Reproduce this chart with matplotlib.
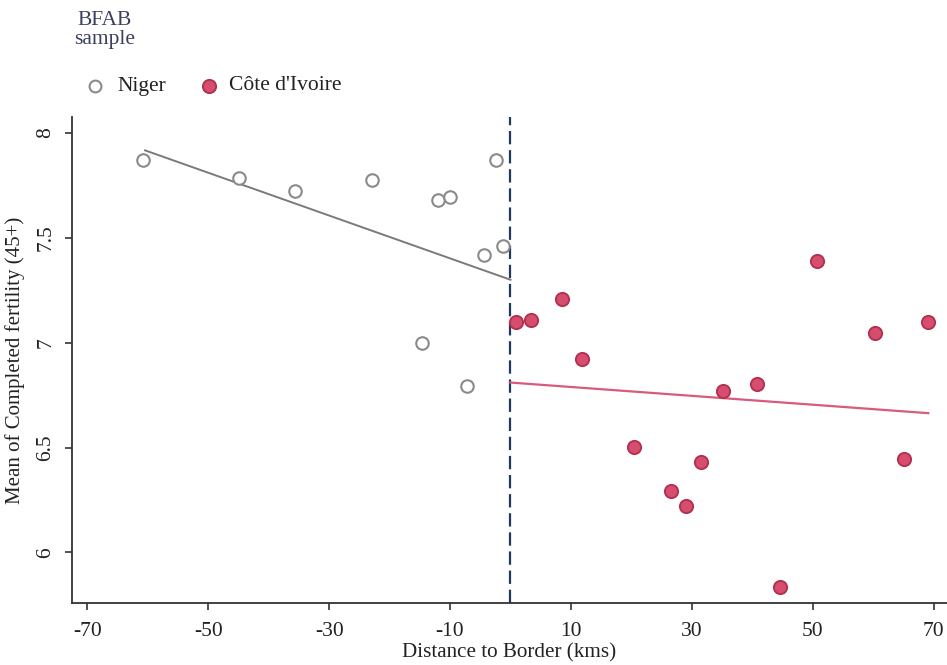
import matplotlib
matplotlib.use("Agg")
import matplotlib.pyplot as plt
from matplotlib.lines import Line2D

plt.rcParams['font.family'] = ['Liberation Serif', 'DejaVu Serif']

# Niger bins (hollow markers)
niger_x = [-60.74, -44.86, -35.65, -22.96, -11.94, -10.01, -2.40, -1.29, -4.33, -14.59, -7.25]
niger_y = [7.873, 7.785, 7.721, 7.777, 7.678, 7.693, 7.873, 7.462, 7.419, 6.998, 6.794]
# Cote d'Ivoire bins (filled markers)
civ_x = [0.91, 3.34, 8.47, 11.88, 20.43, 26.55, 28.98, 31.51, 35.20, 40.73, 44.58, 50.75, 60.30, 65.10, 69.11]
civ_y = [7.101, 7.106, 7.208, 6.923, 6.505, 6.293, 6.222, 6.433, 6.772, 6.804, 5.837, 7.391, 7.046, 6.445, 7.101]
# Fitted lines (endpoints)
niger_fit_x = [-60.46, 0.0]
niger_fit_y = [7.917, 7.300]
civ_fit_x = [0.0, 69.11]
civ_fit_y = [6.810, 6.664]

xticks = [-70, -50, -30, -10, 10, 30, 50, 70]
yticks = [6, 6.5, 7, 7.5, 8]
ytick_labels = ['6', '6.5', '7', '7.5', '8']
series_names = ['Niger', "Côte d'Ivoire"]

W, H = 947, 665
fig = plt.figure(figsize=(W / 100, H / 100), dpi=100)
ax_left, ax_right, ax_bottom, ax_top = 72, 947, 603, 117
ax = fig.add_axes([ax_left / W, 1 - ax_bottom / H, (ax_right - ax_left) / W, (ax_bottom - ax_top) / H])

gray_line = '#7a7a7a'
pink_line = '#d95a7c'
pink_fill = '#d64d70'
pink_edge = '#b3324f'
navy = '#1f3a5c'
txt = '#222222'

ax.plot(niger_fit_x, niger_fit_y, color=gray_line, lw=1.4, zorder=2)
ax.plot(civ_fit_x, civ_fit_y, color=pink_line, lw=1.6, zorder=2)
ax.axvline(0, color=navy, lw=1.6, dashes=(6.0, 2.6), zorder=1)

ax.plot(niger_x, niger_y, 'o', ms=9, mfc='white', mec='#8a8a8a', mew=1.5, ls='none', zorder=3)
ax.plot(civ_x, civ_y, 'o', ms=9.5, mfc=pink_fill, mec=pink_edge, mew=1.4, ls='none', zorder=3)

ax.set_xlim(-72.54, 72.21)
ax.set_ylim(5.759, 8.076)
ax.set_xticks(xticks)
ax.set_xticklabels([str(t) for t in xticks])
ax.set_yticks(yticks)
ax.set_yticklabels(ytick_labels, rotation=90, va='center')

for s in ['top', 'right']:
    ax.spines[s].set_visible(False)
for s in ['left', 'bottom']:
    ax.spines[s].set_color('#333333')
    ax.spines[s].set_linewidth(1.3)
ax.tick_params(axis='both', direction='out', length=5, width=1.2, color='#333333',
               labelsize=15.5, labelcolor=txt)
ax.tick_params(axis='x', pad=9)
ax.tick_params(axis='y', pad=7)

ax.set_xlabel('Distance to Border (kms)', fontsize=15.2, color=txt, labelpad=1)
ax.set_ylabel('Mean of Completed fertility (45+)', fontsize=15.0, color=txt)
ax.yaxis.set_label_coords((25 - ax_left) / (ax_right - ax_left), 0.5)

# Legend (title + two entries)
fig.text(105 / W, 1 - 30 / H, 'BFAB\nsample', ha='center', va='center', fontsize=15.5,
         color='#3a3f5e', linespacing=0.95)
ly = 1 - 86 / H
fig.add_artist(Line2D([95 / W], [ly], marker='o', ls='none', ms=8.5, mfc='white',
                      mec='#8a8a8a', mew=1.5, transform=fig.transFigure))
fig.add_artist(Line2D([209 / W], [ly], marker='o', ls='none', ms=9.5, mfc=pink_fill,
                      mec=pink_edge, mew=1.4, transform=fig.transFigure))
fig.text(117 / W, ly, series_names[0], ha='left', va='center', fontsize=15.5, color=txt)
fig.text(229 / W, ly, series_names[1], ha='left', va='center', fontsize=15.5, color=txt)

fig.savefig('out.png', dpi=100)
